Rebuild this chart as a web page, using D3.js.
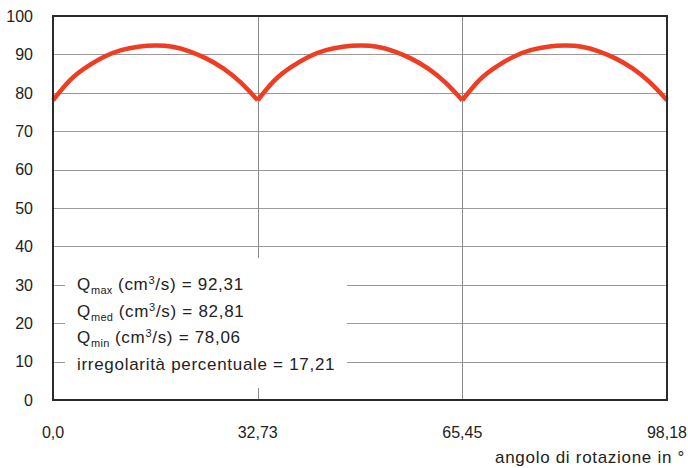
<!DOCTYPE html>
<html>
<head>
<meta charset="utf-8">
<script src="https://cdn.jsdelivr.net/npm/d3@7"></script>
<style>
  body { margin: 0; background: #fff; }
  svg { font-family: "Liberation Sans", Arial, sans-serif; }
</style>
</head>
<body>
<div id="chart"></div>
<script>
// angle of rotation (deg) and flow (cm3/s)
var angles = [0, 2.73, 5.46, 8.18, 10.91, 13.64, 16.37, 19.09, 21.82, 24.55, 27.28, 30.00, 32.73,
              35.46, 38.18, 40.91, 43.64, 46.37, 49.09, 51.82, 54.55, 57.28, 60.00, 62.73, 65.45,
              68.18, 70.91, 73.64, 76.37, 79.09, 81.82, 84.55, 87.27, 90.00, 92.73, 95.46, 98.18];
var flow = [78.06, 83.3, 86.8, 89.4, 91.1, 92.0, 92.31, 92.0, 90.8, 88.9, 86.3, 82.7, 78.06,
            83.3, 86.8, 89.4, 91.1, 92.0, 92.31, 92.0, 90.8, 88.9, 86.3, 82.7, 78.06,
            83.3, 86.8, 89.4, 91.1, 92.0, 92.31, 92.0, 90.8, 88.9, 86.3, 82.7, 78.06];
var cusps = [0, 12, 24, 36];   // indices where the curve restarts

var xTicks = [0, 32.73, 65.45, 98.18];
var xTickLabels = ["0,0", "32,73", "65,45", "98,18"];
var yTicks = [0, 10, 20, 30, 40, 50, 60, 70, 80, 90, 100];

var legendLines = [
    {main: "Q", sub: "max", rest: " (cm", sup: "3", tail: "/s) = 92,31"},
    {main: "Q", sub: "med", rest: " (cm", sup: "3", tail: "/s) = 82,81"},
    {main: "Q", sub: "min", rest: " (cm", sup: "3", tail: "/s) = 78,06"},
    {main: "irregolarità percentuale = 17,21"}
];

var width = 688, height = 468,
    margin = {top: 16, left: 53, bottom: 68, right: 21};

var x = d3.scaleLinear().domain([0, 98.18]).range([margin.left, width - margin.right]);
var y = d3.scaleLinear().domain([0, 100]).range([height - margin.bottom, margin.top]);

var svg = d3.select("#chart").append("svg")
    .attr("width", width)
    .attr("height", height);

// grid
svg.selectAll(".hgrid")
    .data(yTicks.filter(function (d) { return d > 0 && d < 100; }))
    .enter()
    .append("line")
    .attr("x1", x(0))
    .attr("x2", x(98.18))
    .attr("y1", function (d) { return Math.round(y(d)) + 0.5; })
    .attr("y2", function (d) { return Math.round(y(d)) + 0.5; })
    .attr("stroke", "#9a9a9a")
    .attr("stroke-width", 1);

svg.selectAll(".vgrid")
    .data(xTicks.slice(1, 3))
    .enter()
    .append("line")
    .attr("x1", function (d) { return Math.round(x(d)) + 0.5; })
    .attr("x2", function (d) { return Math.round(x(d)) + 0.5; })
    .attr("y1", y(100))
    .attr("y2", y(0))
    .attr("stroke", "#8a8a8a")
    .attr("stroke-width", 1);

// white box behind the legend text
svg.append("rect")
    .attr("x", 65)
    .attr("y", 258)
    .attr("width", 282)
    .attr("height", 130)
    .attr("fill", "#fff");

// curve, one piece per period so the cusps stay sharp
var line = d3.line()
    .x(function (d) { return x(d[0]); })
    .y(function (d) { return y(d[1]); })
    .curve(d3.curveNatural);

var pts = angles.map(function (a, i) { return [a, flow[i]]; });
var pieces = [];
for (var k = 0; k < cusps.length - 1; k++) {
    pieces.push(pts.slice(cusps[k], cusps[k + 1] + 1));
}

svg.selectAll(".curve")
    .data(pieces)
    .enter()
    .append("path")
    .attr("d", line)
    .attr("fill", "none")
    .attr("stroke", "#ee3d23")
    .attr("stroke-width", 4.5)
    .attr("stroke-linejoin", "miter");

// frame
svg.append("rect")
    .attr("x", x(0))
    .attr("y", y(100))
    .attr("width", x(98.18) - x(0))
    .attr("height", y(0) - y(100))
    .attr("fill", "none")
    .attr("stroke", "#2b2b2b")
    .attr("stroke-width", 2);

// y labels
svg.selectAll(".yLabel")
    .data(yTicks)
    .enter()
    .append("text")
    .text(function (d) { return d; })
    .attr("x", 33)
    .attr("y", function (d) { return y(d); })
    .attr("dy", "0.36em")
    .style("text-anchor", "end")
    .style("font-size", "16px")
    .attr("fill", "#222");

// x labels
svg.selectAll(".xLabel")
    .data(xTicks)
    .enter()
    .append("text")
    .text(function (d, i) { return xTickLabels[i]; })
    .attr("x", function (d) { return x(d); })
    .attr("y", 438)
    .style("text-anchor", "middle")
    .style("font-size", "16px")
    .attr("fill", "#222");

svg.append("text")
    .text("angolo di rotazione in °")
    .attr("x", 685)
    .attr("y", 463)
    .style("text-anchor", "end")
    .style("font-size", "17px")
    .style("letter-spacing", "0.7px")
    .attr("fill", "#222");

// legend text
var leg = svg.selectAll(".legLine")
    .data(legendLines)
    .enter()
    .append("text")
    .attr("x", 77)
    .attr("y", function (d, i) { return 290 + i * 26.7; })
    .style("font-size", "17px")
    .style("letter-spacing", "0.7px")
    .attr("fill", "#222");

leg.each(function (d) {
    var t = d3.select(this);
    if (!d.sub) { t.text(d.main); return; }
    t.append("tspan").text(d.main);
    t.append("tspan").text(d.sub).style("font-size", "11px").style("letter-spacing", "0.3px").attr("dy", 4);
    t.append("tspan").text(d.rest).attr("dy", -4);
    t.append("tspan").text(d.sup).style("font-size", "11px").attr("dy", -6);
    t.append("tspan").text(d.tail).attr("dy", 6);
});
</script>
</body>
</html>
